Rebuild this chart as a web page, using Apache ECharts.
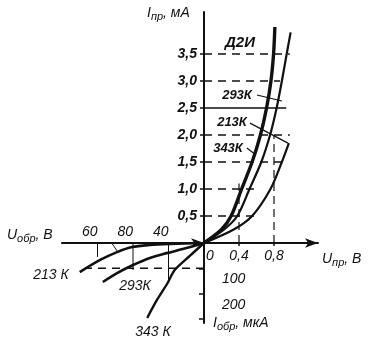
<!DOCTYPE html>
<html><head><meta charset="utf-8">
<script src="https://cdn.jsdelivr.net/npm/echarts@6/dist/echarts.min.js"></script>
<style>html,body{margin:0;padding:0;background:#fff}#c{width:372px;height:341px}</style>
</head><body><div id="c"></div>
<script>
// forward branch: current (mA) and voltage (V)
const fwdI_343 = [0, 0.25, 0.5, 1.0, 1.5, 2.0, 2.5, 3.0, 3.5, 4.0];
const fwdU_343 = [0, 0.20, 0.31, 0.43, 0.55, 0.645, 0.715, 0.765, 0.795, 0.81];
const fwdI_293 = [0, 0.25, 0.5, 1.0, 1.5, 2.0, 2.5, 3.0, 3.5, 3.9];
const fwdU_293 = [0, 0.23, 0.38, 0.52, 0.655, 0.755, 0.83, 0.89, 0.945, 0.99];
const fwdI_213 = [0, 0.25, 0.5, 1.0, 1.5, 1.85];
const fwdU_213 = [0, 0.34, 0.55, 0.76, 0.89, 0.97];
// reverse branch: voltage (V) and current (µA)
const revU_213 = [0, 38, 61, 81, 98, 117, 140];
const revI_213 = [0, 4, 8, 16, 36, 67, 115];
const revU_293 = [0, 24, 42, 61, 80, 98, 114];
const revI_293 = [0, 24, 40, 59, 87, 119, 154];
const revU_343 = [0, 16, 33, 41, 53, 64];
const revI_343 = [0, 51, 107, 158, 225, 296];
// ticks and labels
const fwdYTicks = [0.5, 1.0, 1.5, 2.0, 2.5, 3.0, 3.5];
const fwdYLabels = ['0,5', '1,0', '1,5', '2,0', '2,5', '3,0', '3,5'];
const fwdXTicks = [0.4, 0.8];
const fwdXLabels = ['0,4', '0,8'];
const revXTicks = [40, 80, 120];
const revXLabels = ['40', '80', '60'];
const revYTicks = [100, 200, 300];
const revYLabels = ['100', '200', ''];
// construction lines
const guideLevels = [0.5, 1.0, 1.5, 2.0, 2.5, 3.0, 3.5];
const guideEnds = [0.6, 0.58, 0.92, 0.98, 0.94, 0.87, 0.98];
const guideVX = [0.4, 0.8];
const guideVTop = [1.1, 2.0];
const revGuideLevel = 100, revGuideEnd = 134;
const revVX = [40, 80, 120];
const revVBottom = [158, 107, 55];

const INK = '#111';
const FONT = '"Liberation Sans", Arial, sans-serif';
const zip = (a, b) => a.map((v, i) => [v, b[i]]);
const pick = (ticks, labels) => v => { const i = ticks.findIndex(t => Math.abs(t - v) < 1e-6); return i >= 0 ? labels[i] : ''; };
const lbl = {fontFamily: FONT, fontStyle: 'italic', fontSize: 14, color: INK};
const lblB = Object.assign({}, lbl, {fontWeight: 'bold'});

function line(data, xi, w, type, extra) {
  return Object.assign({type: 'line', xAxisIndex: xi, yAxisIndex: xi, data, symbol: 'none', silent: true,
    smooth: false, lineStyle: {color: INK, width: w, type: type || 'solid'}}, extra || {});
}
const series = [];
guideLevels.forEach((lv, i) => series.push(line([[0, lv], [guideEnds[i], lv]], 0, 1.6, lv === 2.5 ? 'solid' : [8, 6])));
guideVX.forEach((x, i) => series.push(line([[x, 0], [x, guideVTop[i]]], 0, 1.2, [8, 5])));
const sm = {smooth: 0.3};
series.push(line(zip(fwdU_343, fwdI_343), 0, 3.4, 'solid', sm));
series.push(line(zip(fwdU_293, fwdI_293), 0, 2.2, 'solid', sm));
series.push(line(zip(fwdU_213, fwdI_213), 0, 2.2, 'solid', sm));
// leaders
series.push(line([[0.606, 2.74], [0.89, 2.63]], 0, 1.2));
series.push(line([[0.526, 2.22], [0.96, 1.85]], 0, 1.2));
series.push(line([[0.49, 1.76], [0.594, 1.63]], 0, 1.2));
// reverse
series.push(line([[0, revGuideLevel], [revGuideEnd, revGuideLevel]], 1, 1.6, [8, 6]));
revVX.forEach((x, i) => series.push(line([[x, 0], [x, revVBottom[i]]], 1, 1)));
const smr = {smooth: 0.3};
series.push(line(zip(revU_213, revI_213), 1, 2.6, 'solid', smr));
series.push(line(zip(revU_293, revI_293), 1, 2.6, 'solid', smr));
series.push(line(zip(revU_343, revI_343), 1, 2.4, 'solid', smr));
series.push(line([[104, 0], [97, 36]], 1, 1));

function txt(text, x, y, opt) {
  return {type: 'text', x, y, silent: true, style: Object.assign({text, fill: INK,
    font: 'italic 14px ' + FONT, align: 'center', verticalAlign: 'middle',
    textAlign: 'center', textVerticalAlign: 'middle'}, opt || {})};
}
const sub = (main, s, tail) => '{a|' + main + '}{b|' + s + '}{a|' + tail + '}';
const rich = {a: {fontFamily: FONT, fontStyle: 'italic', fontSize: 14, lineHeight: 16, verticalAlign: 'top', fill: INK},
              b: {fontFamily: FONT, fontStyle: 'italic', fontSize: 11, lineHeight: 13, padding: [6, 0, 0, 0], verticalAlign: 'bottom', fill: INK}};
const left = {rich, align: 'left', textAlign: 'left', verticalAlign: 'top', textVerticalAlign: 'top'};
const boldLbl = {font: 'italic bold 13px ' + FONT};

const chart = echarts.init(document.getElementById('c'), null, {renderer: 'canvas'});
chart.setOption({
  animation: false,
  backgroundColor: '#fff',
  grid: [
    {left: 204, top: 12, width: 114, height: 231},
    {left: 62, top: 243, width: 142, height: 80}
  ],
  xAxis: [
    {gridIndex: 0, type: 'value', min: 0, max: 114 / 87.5,
      axisLine: {show: true, onZero: false, lineStyle: {color: INK, width: 2}, symbol: ['none', 'arrow'], symbolSize: [7, 13]},
      axisTick: {show: true, customValues: fwdXTicks, length: 3, lineStyle: {color: INK, width: 1.5}},
      axisLabel: Object.assign({customValues: fwdXTicks, formatter: pick(fwdXTicks, fwdXLabels), margin: 6}, lbl),
      splitLine: {show: false}},
    {gridIndex: 1, type: 'value', position: 'top', inverse: true, min: 0, max: 160,
      axisLine: {show: true, onZero: false, lineStyle: {color: INK, width: 2}, symbol: ['none', 'arrow'], symbolSize: [7, 13]},
      axisTick: {show: false},
      axisLabel: Object.assign({customValues: revXTicks, formatter: pick(revXTicks, revXLabels), margin: 4, align: 'right'}, lbl),
      splitLine: {show: false}}
  ],
  yAxis: [
    {gridIndex: 0, type: 'value', min: 0, max: 231 / 54,
      axisLine: {show: true, onZero: false, lineStyle: {color: INK, width: 2}},
      axisTick: {show: true, customValues: fwdYTicks, length: 4, lineStyle: {color: INK, width: 1.5}},
      axisLabel: Object.assign({customValues: fwdYTicks, formatter: pick(fwdYTicks, fwdYLabels), margin: 7}, lblB),
      splitLine: {show: false}},
    {gridIndex: 1, type: 'value', position: 'right', inverse: true, min: 0, max: 316,
      axisLine: {show: true, onZero: false, lineStyle: {color: INK, width: 2}},
      axisTick: {show: true, customValues: revYTicks, length: 5, inside: true, lineStyle: {color: INK, width: 1.5}},
      axisLabel: Object.assign({customValues: revYTicks, formatter: pick(revYTicks, revYLabels), margin: 18, verticalAlign: 'top', padding: [4, 0, 0, 0]}, lbl),
      splitLine: {show: false}}
  ],
  series,
  graphic: [
    txt(sub('I', 'пр', ', мА'), 147, 6, left),
    txt('Д2И', 240, 43, {font: 'italic bold 15px ' + FONT}),
    txt('293К', 237, 95, boldLbl),
    txt('213К', 232, 122, boldLbl),
    txt('343К', 228, 148, boldLbl),
    txt('0', 210, 256),
    txt(sub('U', 'пр', ', В'), 322, 252, left),
    txt(sub('U', 'обр', ', В'), 7, 228, left),
    txt(sub('I', 'обр', ', мкА'), 213, 316, left),
    txt('213 К', 51, 275),
    txt('293К', 135, 286),
    txt('343 К', 153, 332)
  ]
});
</script></body></html>
